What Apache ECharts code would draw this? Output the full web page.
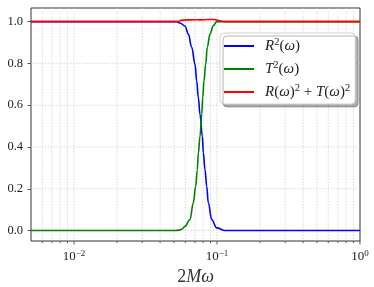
<!DOCTYPE html>
<html><head><meta charset="utf-8">
<script src="https://cdn.jsdelivr.net/npm/echarts@6/dist/echarts.min.js"></script>
<style>html,body{margin:0;padding:0;background:#fff}#c{width:374px;height:287px}</style>
</head><body><div id="c"></div>
<script>
// ---- data (2Mω on log x-axis) ----
const xR = [0.005, 0.03, 0.05, 0.0523, 0.0551, 0.0597, 0.0630, 0.0665, 0.0702, 0.0721, 0.0740, 0.0760, 0.0789, 0.0802, 0.0824, 0.0847, 0.0869, 0.0918, 0.0995, 0.1138, 0.3, 1.0];
const R2 = [1, 1, 1, 1.0, 0.993, 0.979, 0.94, 0.877, 0.795, 0.715, 0.636, 0.556, 0.452, 0.372, 0.292, 0.212, 0.133, 0.053, 0.013, 0.0, 0, 0];
const xT = [0.005, 0.03, 0.05, 0.0545, 0.0566, 0.0597, 0.0647, 0.0683, 0.0709, 0.0728, 0.0740, 0.0760, 0.0782, 0.0794, 0.0811, 0.0833, 0.0855, 0.0893, 0.0942, 0.0995, 0.11, 0.3, 1.0];
const T2 = [0, 0, 0, 0.002, 0.006, 0.02, 0.053, 0.133, 0.212, 0.29, 0.37, 0.45, 0.556, 0.636, 0.715, 0.795, 0.877, 0.94, 0.98, 1.0, 1.0, 1.0, 1.0];
const xS = [0.005, 0.05, 0.0535, 0.0555, 0.057, 0.0587, 0.0604, 0.0621, 0.0639, 0.0657, 0.0676, 0.0695, 0.0715, 0.0735, 0.076, 0.08, 0.088, 0.095, 0.099, 0.102, 0.11, 1.0];
const S  = [1, 1, 1.0, 1.006, 0.998, 1.007, 0.999, 1.008, 1.0, 1.008, 1.002, 1.009, 1.004, 1.009, 1.008, 1.009, 1.01, 1.01, 1.008, 1.0, 1.0, 1.0];
const xMajor = [0.01, 0.1, 1];
const xMinor = [0.006,0.007,0.008,0.009,0.02,0.03,0.04,0.05,0.06,0.07,0.08,0.09,0.2,0.3,0.4,0.5,0.6,0.7,0.8,0.9];
const yTicks = [0, 0.2, 0.4, 0.6, 0.8, 1.0];
const names = ['R2', 'T2', 'sum'];
const colors = ['#0000ff', '#008000', '#ff0000'];

const pair = (xs, ys) => xs.map((x, i) => [x, ys[i]]);
const SERIF = 'Liberation Serif';
const AX = '#333';

function vRender(params, api) {
  const x = api.value(0), major = api.value(1) === 1;
  const cs = params.coordSys;
  const px = api.coord([x, 0.5])[0];
  const children = [];
  if (x < 1) children.push({type:'line', shape:{x1:px, y1:cs.y, x2:px, y2:cs.y+cs.height},
    style:{stroke:'#c8c8c8', lineWidth:0.8, lineDash:[1.2,1.6]}});
  children.push({type:'line', shape:{x1:px, y1:cs.y+cs.height, x2:px, y2:cs.y+cs.height+(major?3.5:2)},
    style:{stroke:AX, lineWidth:0.8}});
  return {type:'group', children, silent:true};
}
function hRender(params, api) {
  const y = api.value(1);
  const cs = params.coordSys;
  const py = api.coord([0.1, y])[1];
  return {type:'line', silent:true, shape:{x1:cs.x, y1:py, x2:cs.x+cs.width, y2:py},
    style:{stroke:'#c8c8c8', lineWidth:0.8, lineDash:[1.2,1.6]}};
}

const sup = {fontFamily:SERIF, fontSize:10.5, padding:[0,0,7,0], color:'#222'};
const it = {fontFamily:SERIF, fontSize:15, fontStyle:'italic', color:'#222'};
const nn = {fontFamily:SERIF, fontSize:15, color:'#222'};
const legendLabels = {
  R2: '{i|R}{s|2}{n|(}{i|ω}{n|)}',
  T2: '{i|T}{s|2}{n|(}{i|ω}{n|)}',
  sum: '{i|R}{n|(}{i|ω}{n|)}{s|2}{n| + }{i|T}{n|(}{i|ω}{n|)}{s|2}'
};

const chart = echarts.init(document.getElementById('c'), null, {renderer:'canvas'});
chart.setOption({
  animation: false,
  grid: {left:31, right:14, top:8, bottom:46, show:true, borderColor:AX, borderWidth:1, backgroundColor:'transparent', outerBoundsMode:'none', containLabel:false},
  xAxis: {
    type:'log', logBase:10, min:0.005, max:1,
    axisLine:{show:false}, axisTick:{show:false}, splitLine:{show:false},
    axisLabel:{margin:8, color:'#222',
      formatter: v => { const e = Math.round(Math.log10(v)); if (Math.abs(Math.log10(v) - e) > 1e-6) return ''; return '{b|10}{s|' + (e < 0 ? '−' + (-e) : e) + '}'; },
      rich:{b:{fontFamily:SERIF, fontSize:13, color:'#222'}, s:{fontFamily:SERIF, fontSize:9, padding:[0,0,7,0], color:'#222'}}},
    name:'{n|2}{i|Mω}', nameLocation:'middle', nameGap:26,
    nameTextStyle:{rich:{n:{fontFamily:SERIF, fontSize:18, color:'#333'}, i:{fontFamily:SERIF, fontSize:18, fontStyle:'italic', color:'#333'}}}
  },
  yAxis: {
    type:'value', min:-0.05, max:1.065,
    axisLine:{show:false}, splitLine:{show:false},
    axisTick:{show:true, length:3.5, customValues:yTicks, lineStyle:{color:AX, width:0.8}},
    axisLabel:{customValues:yTicks, margin:8, fontFamily:SERIF, fontSize:12.5, color:'#222', formatter: v => v.toFixed(1)}
  },
  legend: {
    data: names, orient:'vertical', left:220, top:33,
    icon:'rect', itemWidth:30, itemHeight:2, itemGap:6,
    padding:[4, 5, 4, 4],
    backgroundColor:'#fff', borderColor:'#d0d0d0', borderWidth:1, borderRadius:4,
    shadowColor:'rgba(0,0,0,0.3)', shadowOffsetX:3, shadowOffsetY:3, shadowBlur:0,
    textStyle:{fontFamily:SERIF, fontSize:15, lineHeight:16, padding:[0,0,0,6], rich:{i:it, n:nn, s:sup}},
    formatter: n => legendLabels[n]
  },
  series: [
    {type:'custom', name:'vgrid', z:1, clip:false, renderItem:vRender,
      data: xMajor.map(x => [x, 1]).concat(xMinor.map(x => [x, 0])), encode:{x:0}},
    {type:'custom', name:'hgrid', z:1, renderItem:hRender, data: yTicks.map(y => [0.1, y]), encode:{x:0, y:1}},
    {type:'line', name:'R2', data:pair(xR, R2), showSymbol:false, smooth:0.4, smoothMonotone:'x', z:3, lineStyle:{color:colors[0], width:1.6}, itemStyle:{color:colors[0]}},
    {type:'line', name:'T2', data:pair(xT, T2), showSymbol:false, smooth:0.4, smoothMonotone:'x', z:3, lineStyle:{color:colors[1], width:1.6}, itemStyle:{color:colors[1]}},
    {type:'line', name:'sum', data:pair(xS, S), showSymbol:false, z:4, lineStyle:{color:colors[2], width:1.6}, itemStyle:{color:colors[2]}}
  ]
});
</script></body></html>
